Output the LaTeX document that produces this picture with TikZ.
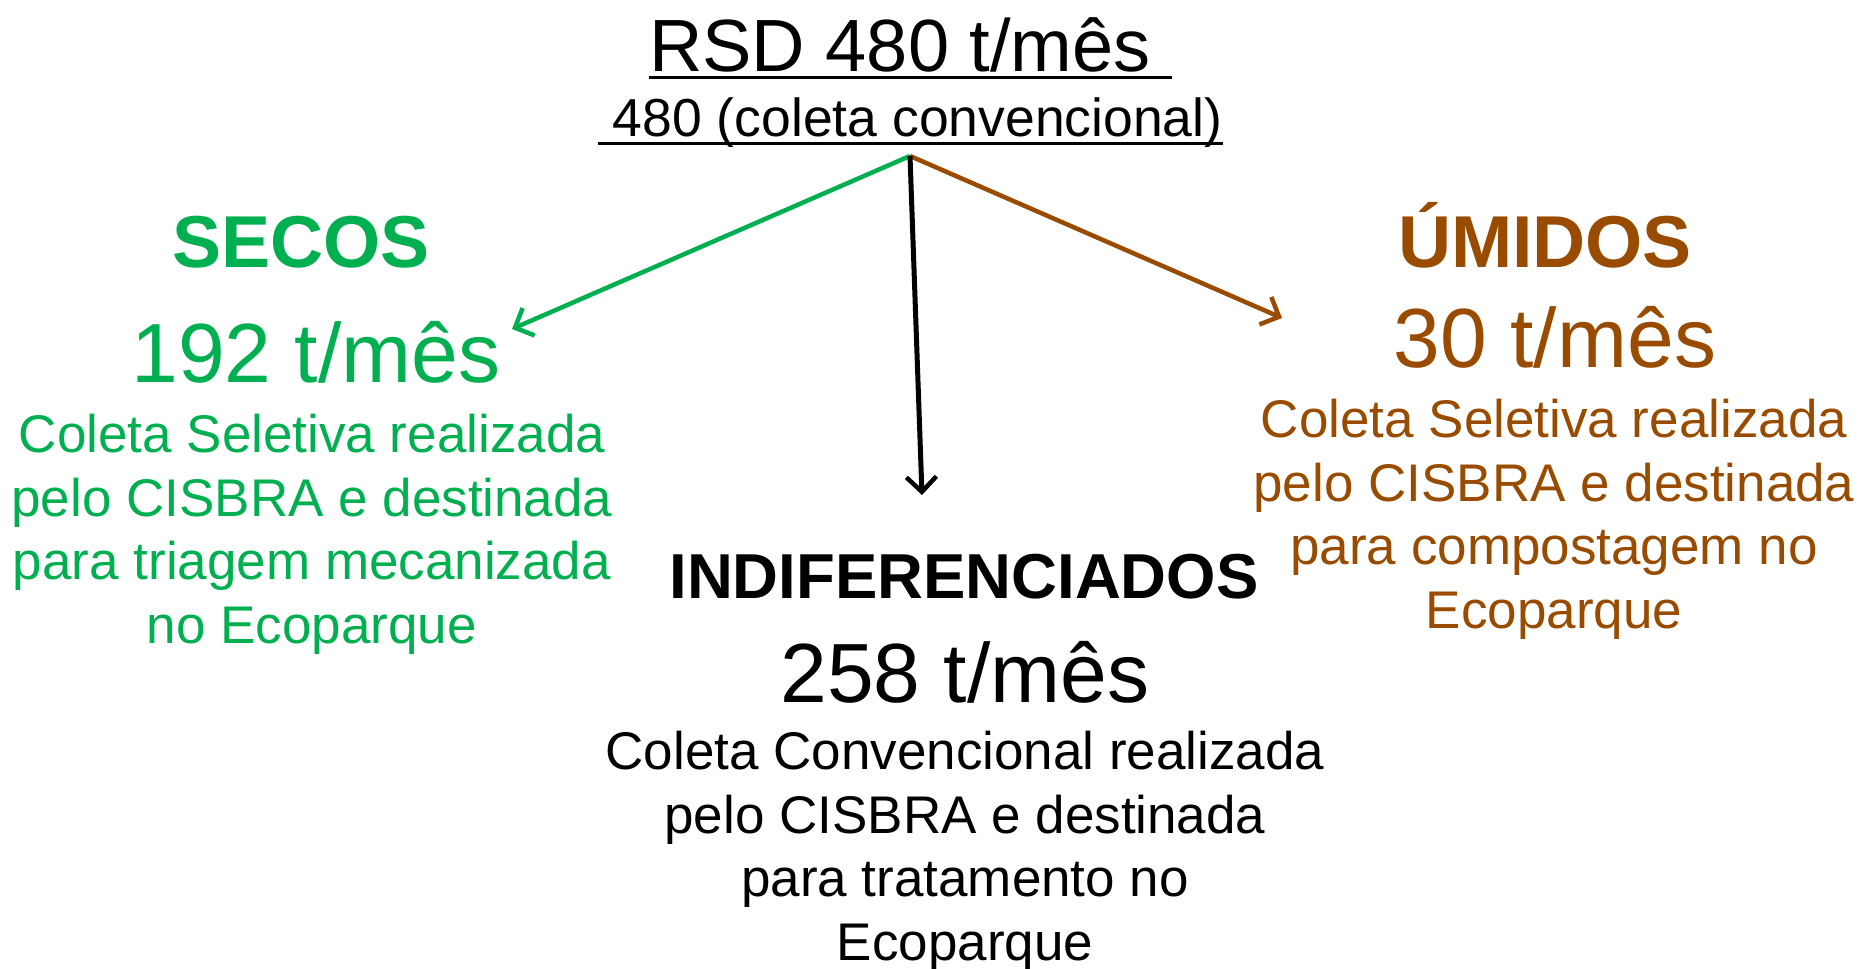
\documentclass[tikz,border=0pt]{standalone}
\usepackage{fontspec}
\setmainfont{Liberation Sans}
\usetikzlibrary{arrows.meta}
\definecolor{secgreen}{RGB}{0,176,80}
\definecolor{umbrown}{RGB}{153,76,0}
\begin{document}
\begin{tikzpicture}[x=1pt,y=-1pt,
  txt/.style={inner sep=0pt, outer sep=0pt},
  para/.style={txt, align=center, font=\fontsize{53}{63.4}\selectfont},
  headtxt/.style={txt, font=\fontsize{73.5}{80}\selectfont\bfseries},
  amount/.style={txt, font=\fontsize{84}{90}\selectfont},
  conn/.style={line width=4.5pt, -{Straight Barb[length=15pt,width=30pt,line width=4.5pt]}},
  uline/.style={line width=3pt},
]
\useasboundingbox[fill=white] (0,0) rectangle (1858,969);

% title
\node[txt, anchor=base west, font=\fontsize{74}{80}\selectfont] (title) at (649,71) {RSD 480 t/mês};
\draw[uline] ([yshift=-6pt]title.base west) -- ([xshift=21pt,yshift=-6pt]title.base east);
\node[txt, anchor=base west, font=\fontsize{53.5}{60}\selectfont] (sub) at (598,136) {\ 480 (coleta convencional)};
\draw[uline] ([yshift=-7pt]sub.base west) -- ([yshift=-7pt]sub.base east);

% connectors
\coordinate (v) at (910,156);
\coordinate (gend) at (512,329);
\coordinate (bend) at (1282,318);
\coordinate (kend) at (922,495);
\draw[conn, secgreen] (v) -- (gend);
\draw[conn, umbrown] (v) -- (bend);
\draw[conn, black, line width=5pt] (v) -- (kend);

% secos
\node[headtxt, text=secgreen, anchor=base] (secos) at (301,267) {SECOS};
\node[amount, text=secgreen, anchor=base] (secamt) at (316,382) {192 t/mês};
\node[para, text=secgreen, anchor=base] (secpar) at (312,643) {Coleta Seletiva realizada\\pelo CISBRA e destinada\\para triagem mecanizada\\no Ecoparque};

% indiferenciados
\node[txt, font=\fontsize{63.5}{70}\selectfont\bfseries, anchor=base] (ind) at (964,598) {INDIFERENCIADOS};
\node[amount, anchor=base] (indamt) at (965,702) {258 t/mês};
\node[para, anchor=base] (indpar) at (965,960) {Coleta Convencional realizada\\pelo CISBRA e destinada\\para tratamento no\\Ecoparque};

% umidos
\node[headtxt, text=umbrown, anchor=base] (umi) at (1545,267) {ÚMIDOS};
\node[amount, text=umbrown, anchor=base] (umiamt) at (1555,367) {30 t/mês};
\node[para, text=umbrown, anchor=base] (umipar) at (1554,628) {Coleta Seletiva realizada\\pelo CISBRA e destinada\\para compostagem no\\Ecoparque};
\end{tikzpicture}
\end{document}
